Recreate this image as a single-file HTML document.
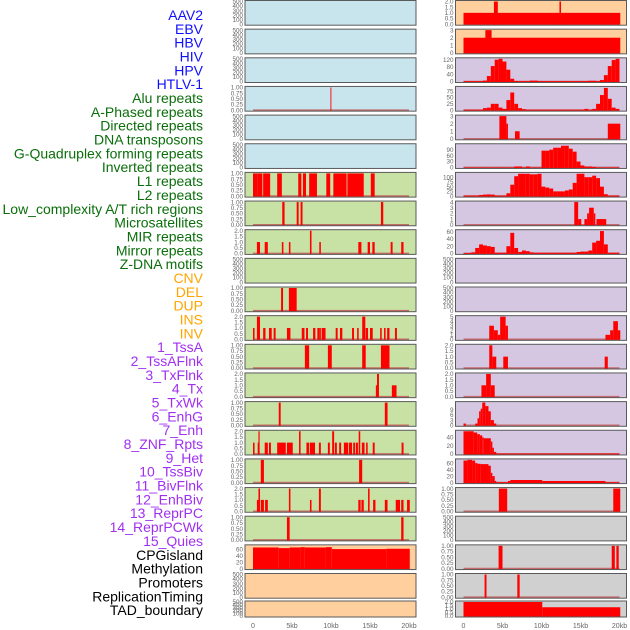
<!DOCTYPE html>
<html><head><meta charset="utf-8">
<style>
html,body{margin:0;padding:0;background:#fff;}
svg{display:block;font-family:"Liberation Sans",sans-serif;}
</style></head>
<body>
<svg id="chart" width="630" height="630" viewBox="0 0 630 630" xmlns="http://www.w3.org/2000/svg"></svg>
<script>
// ---------- data (kb units: [start, end, value]) ----------
const trackLabels = ["AAV2","EBV","HBV","HIV","HPV","HTLV-1","Alu repeats","A-Phased repeats","Directed repeats","DNA transposons","G-Quadruplex forming repeats","Inverted repeats","L1 repeats","L2 repeats","Low_complexity A/T rich regions","Microsatellites","MIR repeats","Mirror repeats","Z-DNA motifs","CNV","DEL","DUP","INS","INV","1_TssA","2_TssAFlnk","3_TxFlnk","4_Tx","5_TxWk","6_EnhG","7_Enh","8_ZNF_Rpts","9_Het","10_TssBiv","11_BivFlnk","12_EnhBiv","13_ReprPC","14_ReprPCWk","15_Quies","CPGisland","Methylation","Promoters","ReplicationTiming","TAD_boundary"];
const xTickValues = [0,5,10,15,20];
const xTickLabels = ["0","5kb","10kb","15kb","20kb"];
const ticksEmpty = ["0","100","200","300","400","500"];
const ticksUnit = ["0.00","0.25","0.50","0.75","1.00"];
const ticksTwo = ["0.0","0.5","1.0","1.5","2.0"];

const hivSegs = [[9.93,10.03,1]];
const aluSegs = [[0,0.6,1],[0.6,1.2,1],[1.3,2.2,1],[3.1,3.7,1],[5.8,6.2,1],[6.4,6.8,1],[7.2,8.2,1],[9.4,9.9,1],[10.3,12.0,1],[12.1,14.2,1],[15.1,15.6,1]];
const aPhasedSegs = [[3.75,4.05,1],[5.6,5.85,1],[6.1,6.35,1],[16.4,16.7,1]];
const directedSegs = [[0.5,0.9,1],[1.5,1.9,1],[3.7,3.9,1],[4.6,4.8,1],[7.3,7.5,2],[8.5,8.7,1],[13.5,13.9,1],[14.7,15.0,1],[15.3,15.6,1],[17.65,17.9,1],[19.0,19.3,1]];
const gquadSegs = [[3.6,3.85,1],[4.6,5.6,1]];
const invertedSegs = [[0,0.2,1],[0.5,0.9,2],[1.3,1.6,1],[2.05,2.4,1],[2.65,2.9,1],[4.35,4.8,1],[6.25,6.6,1],[6.8,7.05,1],[7.7,8.0,1],[8.25,8.5,1],[8.5,8.7,1],[8.8,9.3,1],[10.6,10.85,1],[11.15,11.45,1],[12.7,12.95,1],[13.35,13.55,1],[14.0,14.4,2],[14.45,14.75,1],[15.0,15.35,1],[16.3,16.5,1],[16.8,17.0,1],[17.2,17.5,1],[18.2,18.45,1]];
const l1Segs = [[6.65,7.2,1],[9.6,10.1,1],[14.0,14.45,1],[16.4,17.5,1]];
const l2Segs = [[15.75,15.9,1],[15.9,16.15,2],[17.8,18.4,1]];
const lowCompSegs = [[3.3,3.55,1],[16.9,17.25,1]];
const microsatSegs = [[0,0.2,1],[0.6,0.7,1],[0.7,0.85,2],[1.5,1.9,1],[2.05,2.3,1],[3.1,4.2,1],[4.35,5.1,1],[5.9,6.1,2],[6.85,7.2,1],[7.3,7.95,1],[8.45,8.7,1],[9.6,9.85,1],[10.15,10.4,2],[10.5,10.75,1],[11.05,11.3,1],[11.65,12.2,1],[12.3,12.7,1],[12.85,13.1,1],[13.2,13.45,1],[13.55,13.75,2],[13.95,14.3,1],[14.5,14.7,1],[15.35,15.6,1],[19.05,19.3,1]];
const mirSegs = [[1.0,1.4,1],[13.6,14.0,1]];
const mirrorSegs = [[0.5,0.7,1],[0.7,0.9,2],[1.0,1.4,1],[1.55,1.9,1],[4.6,4.8,2],[7.3,7.5,1],[8.45,8.7,2],[13.5,13.8,1],[13.9,14.2,1],[14.75,14.95,2],[15.4,15.7,1],[16.9,17.25,1],[18.3,18.85,1],[19.0,19.3,1],[19.75,20.1,1]];
const zdnaSegs = [[4.35,4.7,1],[19.0,19.3,1]];
const cnvSegs = [[0,3.3,65],[3.3,4.7,63],[4.7,6.1,65],[6.1,6.65,66],[6.65,9.35,65],[9.35,10.1,66],[10.1,17.1,60],[17.1,20.1,61]];
const insSegs = [[0,20.1,1],[3.9,4.4,2],[12.3,12.5,2]];
const invSegs = [[0,20.1,2],[2.8,3.6,3]];
const tssABins = [2,2,2,2,2,5,30,85,120,125,110,65,15,3,2,2,2,5,5,2,2,2,2,2,2,2,2,2,2,2,2,2,4,4,2,8,35,85,118,125];
const tssAFlnkBins = [2,2,2,2,2,8,10,25,25,10,5,40,70,25,8,4,2,2,2,2,2,2,2,2,2,2,2,2,2,2,2,5,2,5,25,60,88,45,10,5];
const txFlnkSegs = [[4.6,5.5,3],[5.5,5.7,2],[6.6,7.2,1],[18.5,20.1,2]];
const txBins = [0,0,0,0,0,0,0,0,0,0,0,0,0,5,5,0,5,0,0,0,85,85,90,100,100,110,110,95,80,30,10,5,5,3,0,0,0,0,0,0];
const txWkBins = [3,3,3,3,6,8,9,8,3,3,3,15,60,105,118,118,118,115,115,118,50,45,40,25,25,25,30,35,70,118,118,100,100,108,95,50,10,3,3,3];
const enhGSegs = [[14.2,14.7,4],[14.7,15.1,1],[15.5,15.85,1],[15.85,16.1,2],[16.1,16.7,3],[16.7,16.9,2],[17.05,18.3,1]];
const enhBins = [1,1,3,15,25,22,20,18,2,2,2,20,57,15,4,8,6,3,2,2,2,2,2,2,2,2,2,2,2,4,5,5,8,30,35,62,25,2,2,2];
const tssBivSegs = [[3.3,3.9,3],[3.9,4.4,2],[4.4,4.7,1],[4.7,5.4,5],[5.4,5.7,3],[18.2,18.8,1],[18.8,19.2,2],[19.2,19.8,4],[19.8,20.1,2]];
const bivFlnkSegs = [[3.3,3.7,2],[3.7,4.2,1],[5.1,5.7,1],[18.1,18.5,1]];
const enhBivSegs = [[2.3,2.9,1],[2.9,3.5,2],[3.5,4.0,1]];
const reprPCSegs = [[0,0.3,1],[1.5,1.8,1],[1.8,2.0,4],[2.0,2.2,8],[2.2,2.4,9.5],[2.4,2.8,13],[2.8,3.2,11],[3.2,3.5,8],[3.5,3.9,3],[3.9,4.2,1]];
const reprPCWkSegs = [[0,1.3,55],[1.3,1.75,52],[1.75,2.1,48],[2.1,2.4,45],[2.4,2.6,40],[2.6,3.5,38],[3.5,3.7,30],[3.7,3.9,15],[3.9,4.2,5],[4.2,20,1]];
const quiesSegs = [[0,0.5,68],[0.5,1.1,70],[1.1,1.5,68],[1.5,1.8,60],[1.8,2.2,58],[2.2,3.2,57],[3.2,3.5,52],[3.5,3.7,30],[3.7,4.0,20],[4.0,4.2,5],[4.2,5.7,1],[5.7,6.0,5],[6.0,10.1,8],[10.1,18.2,5],[18.2,20,1]];
const cpgSegs = [[4.53,5.6,1],[19.2,20.1,1]];
const promoterSegs = [[4.5,5.0,1],[19.0,19.4,1],[19.6,19.9,1]];
const repTimingSegs = [[2.7,2.95,1],[6.9,7.2,1]];
const tadSegs = [[0,10.1,2],[10.1,20.1,1.25]];

const BLUE="#c8e4ec", GREEN="#c8e2a6", ORANGE="#ffd09e", LAV="#d5c6e2", GRAY="#d0d0d0";
// panels: [col,row,bg,ymax,ticks,data,kind]
const panels = [
 [0,0,BLUE,500,ticksEmpty,null,"e"],[0,1,BLUE,500,ticksEmpty,null,"e"],[0,2,BLUE,500,ticksEmpty,null,"e"],
 [0,3,BLUE,1,ticksUnit,hivSegs,"s"],[0,4,BLUE,500,ticksEmpty,null,"e"],[0,5,BLUE,500,ticksEmpty,null,"e"],
 [0,6,GREEN,1,ticksUnit,aluSegs,"s"],[0,7,GREEN,1,ticksUnit,aPhasedSegs,"s"],[0,8,GREEN,2,ticksTwo,directedSegs,"s"],
 [0,9,GREEN,500,ticksEmpty,null,"e"],[0,10,GREEN,1,ticksUnit,gquadSegs,"s"],[0,11,GREEN,2,ticksTwo,invertedSegs,"s"],
 [0,12,GREEN,1,ticksUnit,l1Segs,"s"],[0,13,GREEN,2,ticksTwo,l2Segs,"s"],[0,14,GREEN,1,ticksUnit,lowCompSegs,"s"],
 [0,15,GREEN,2,ticksTwo,microsatSegs,"s"],[0,16,GREEN,1,ticksUnit,mirSegs,"s"],[0,17,GREEN,2,ticksTwo,mirrorSegs,"s"],
 [0,18,GREEN,1,ticksUnit,zdnaSegs,"s"],[0,19,ORANGE,70,["0","20","40","60"],cnvSegs,"s"],
 [0,20,ORANGE,500,ticksEmpty,null,"e"],[0,21,ORANGE,500,ticksEmpty,null,"e"],
 [1,0,ORANGE,2,ticksTwo,insSegs,"s"],[1,1,ORANGE,3,["0","1","2","3"],invSegs,"s"],
 [1,2,LAV,125,["0","40","80","120"],tssABins,"b"],[1,3,LAV,90,["0","25","50","75"],tssAFlnkBins,"b"],
 [1,4,LAV,3,["0","1","2","3"],txFlnkSegs,"s"],[1,5,LAV,115,["0","30","60","90"],txBins,"b"],
 [1,6,LAV,120,["0","25","50","75","100"],txWkBins,"b"],[1,7,LAV,4,["0","1","2","3","4"],enhGSegs,"s"],
 [1,8,LAV,63,["0","20","40","60"],enhBins,"b"],[1,9,LAV,500,ticksEmpty,null,"e"],[1,10,LAV,500,ticksEmpty,null,"e"],
 [1,11,LAV,5,["0","1","2","3","4","5"],tssBivSegs,"s"],[1,12,LAV,2,ticksTwo,bivFlnkSegs,"s"],
 [1,13,LAV,2,ticksTwo,enhBivSegs,"s"],[1,14,LAV,13,["0","3","6","9"],reprPCSegs,"s"],
 [1,15,LAV,55,["0","20","40"],reprPCWkSegs,"s"],[1,16,LAV,70,["0","20","40","60"],quiesSegs,"s"],
 [1,17,GRAY,1,ticksUnit,cpgSegs,"s"],[1,18,GRAY,500,ticksEmpty,null,"e"],[1,19,GRAY,1,ticksUnit,promoterSegs,"s"],
 [1,20,GRAY,1,ticksUnit,repTimingSegs,"s"],[1,21,GRAY,2,ticksTwo,tadSegs,"s"]
];
const tickValueMap = {}; // tick numeric values parsed from labels

const NS="http://www.w3.org/2000/svg";
const svg=document.getElementById('chart');
function mk(tag,attrs,parent){const e=document.createElementNS(NS,tag);for(const k in attrs)e.setAttribute(k,attrs[k]);(parent||svg).appendChild(e);return e;}
const colX0=[245,455.5], colW=171;
function xPos(col,kb){return colX0[col]+8+kb*7.8;}
function rowTop(r){return r===21?601:0.5+28.65*r;}
function rowH(r){return r===21?16:24.7;}

// labels
trackLabels.forEach((t,i)=>{
  let c = i<6?"#1010ff":i<19?"#0a6e0a":i<24?"#ffa500":i<39?"#a030f0":"#000";
  const el=mk('text',{x:203,y:15+13.84*i+5,'text-anchor':'end','font-size':'14',fill:c});
  el.textContent=t;
  
  
});

panels.forEach((p,idx)=>{
  const [col,row,bg,ymax,ticks,data,kind]=p;
  const top=rowTop(row), h=rowH(row), x0=colX0[col];
  const bottom=top+h;
  const name=trackLabels[col*22+row].toLowerCase().replace(/[^a-z0-9]+/g,'-');
  const g=mk('g',{});
  
  
  const bgr=mk('rect',{x:x0,y:top,width:colW,height:h,fill:bg},g);
  
  
  const yv=v=>bottom-1-Math.min(v,ymax)/ymax*(h-2);
  // y ticks
  ticks.forEach((t,k)=>{
    const v=parseFloat(t);
    const tt=mk('text',{x:x0-2,y:yv(v)+2.2,'text-anchor':'end','font-size':'6.3',fill:'#666'},g);
    tt.textContent=t;
    
    
  });
  if(kind!=="e"){
    const bl=mk('line',{x1:xPos(col,0),x2:xPos(col,20),y1:bottom-1,y2:bottom-1,stroke:'#c05050','stroke-width':1.6,'stroke-opacity':0.8},g);
    
    
  }
  let segs=[];
  if(kind==="s") segs=data;
  if(kind==="b") segs=data.map((v,k)=>[k*0.5,k*0.5+0.5,v]);
  segs.forEach(s=>{
    const xa=xPos(col,s[0]), xb=xPos(col,s[1]);
    const yt=yv(s[2]);
    const r=mk('rect',{x:xa,y:yt,width:Math.max(xb-xa,0.9),height:bottom-1-yt+0.5,fill:'#ff0000'},g);
    
    
  });
  const fr=mk('rect',{x:x0,y:top,width:colW,height:h,fill:'none',stroke:'#5a5a5a','stroke-width':1},g);
  
  
});

// x-axis tick labels
[0,1].forEach(col=>{
  xTickValues.forEach((v,k)=>{
    const t=mk('text',{x:xPos(col,v),y:628,'text-anchor':'middle','font-size':'7',fill:'#666'});
    t.textContent=xTickLabels[k];
    
    
  });
});
</script>
</body></html>
